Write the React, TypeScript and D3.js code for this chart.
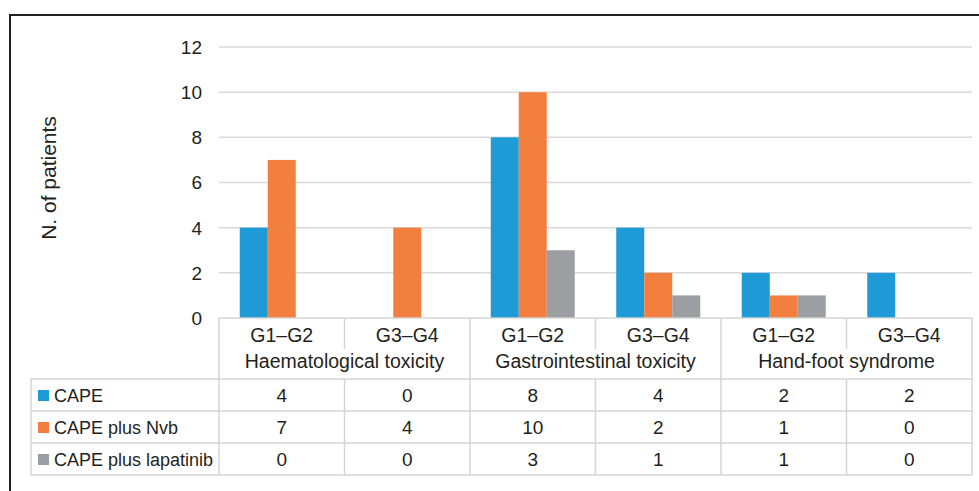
import { scaleBand, scaleLinear, range } from "d3";

const groups = ["Haematological toxicity", "Gastrointestinal toxicity", "Hand-foot syndrome"];
const grades = ["G1–G2", "G3–G4"];
const seriesNames = ["CAPE", "CAPE plus Nvb", "CAPE plus lapatinib"];
const seriesColors = ["#1e9bd7", "#f37f3e", "#9c9ea2"];
const cape = [4, 0, 8, 4, 2, 2];
const capeNvb = [7, 4, 10, 2, 1, 0];
const capeLapatinib = [0, 0, 3, 1, 1, 0];
const yTicks = [0, 2, 4, 6, 8, 10, 12];

const W = 979;
const H = 491;
const FONT = "'Liberation Sans', Arial, sans-serif";

function App() {
  const series = [cape, capeNvb, capeLapatinib];
  const cats = range(groups.length * grades.length);

  const left = 219;
  const right = 972;
  const x = scaleBand<number>().domain(cats).range([left, right]).padding(0);
  const barW = 28;
  const outer = (x.bandwidth() / barW - 3) / 2;
  const xs = scaleBand<number>().domain([0, 1, 2]).range([0, x.bandwidth()]).paddingInner(0).paddingOuter(outer);
  const y = scaleLinear().domain([0, 12]).range([318, 47]);

  // table geometry
  const headTop = y(0);
  const subLineBottom = 349;
  const rowTop = 379;
  const rowH = 32;
  const legendLeft = 31;
  const lineColor = "#d4d4d4";
  const txt = "#231f20";

  return (
    <svg width={W} height={H} style={{ position: "absolute", left: 0, top: 0, display: "block", background: "#fff" }} fontFamily={FONT}>
      {/* frame */}
      <line x1={10} x2={10} y1={14} y2={H} stroke="#231f20" strokeWidth={2} />
      <line x1={9} x2={W} y1={15} y2={15} stroke="#231f20" strokeWidth={2} />

      {/* gridlines + ticks */}
      {yTicks.map((t) => (
        <g key={t}>
          {t > 0 && <line x1={left} x2={right} y1={y(t)} y2={y(t)} stroke="#d9d9d9" strokeWidth={1.5} />}
          <text x={202} y={y(t)} dy="0.36em" textAnchor="end" fontSize={19} fill={txt}>{t}</text>
        </g>
      ))}
      <text transform={`translate(48,178) rotate(-90)`} textAnchor="middle" dy="0.36em" fontSize={21} fill={txt}>
        N. of patients
      </text>

      {/* bars */}
      {series.map((vals, si) =>
        vals.map((v, ci) =>
          v > 0 ? (
            <rect key={`${si}-${ci}`} x={(x(ci) ?? 0) + (xs(si) ?? 0)} y={y(v)} width={xs.bandwidth()} height={y(0) - y(v)} fill={seriesColors[si]} />
          ) : null
        )
      )}

      {/* table lines */}
      <line x1={left} x2={right} y1={headTop} y2={headTop} stroke={lineColor} strokeWidth={1.5} />
      {cats.map((c) => {
        const xx = x(c) ?? 0;
        const full = c % grades.length === 0;
        return <line key={`v${c}`} x1={xx} x2={xx} y1={headTop} y2={full ? rowTop + rowH * 3 : subLineBottom} stroke={lineColor} strokeWidth={1.5} />;
      })}
      {cats.map((c) =>
        c % grades.length !== 0 ? (
          <line key={`vb${c}`} x1={x(c) ?? 0} x2={x(c) ?? 0} y1={rowTop} y2={rowTop + rowH * 3} stroke={lineColor} strokeWidth={1.5} />
        ) : null
      )}
      <line x1={right} x2={right} y1={headTop} y2={rowTop + rowH * 3} stroke={lineColor} strokeWidth={1.5} />
      <line x1={legendLeft} x2={legendLeft} y1={rowTop} y2={rowTop + rowH * 3} stroke={lineColor} strokeWidth={1.5} />
      {range(4).map((r) => (
        <line key={`h${r}`} x1={legendLeft} x2={right} y1={rowTop + r * rowH} y2={rowTop + r * rowH} stroke={lineColor} strokeWidth={1.5} />
      ))}

      {/* header text */}
      {cats.map((c) => (
        <text key={`g${c}`} x={(x(c) ?? 0) + x.bandwidth() / 2} y={342} textAnchor="middle" fontSize={19.5} fill={txt}>
          {grades[c % grades.length]}
        </text>
      ))}
      {groups.map((g, gi) => (
        <text key={g} x={(x(gi * 2) ?? 0) + x.bandwidth()} y={368} textAnchor="middle" fontSize={19.5} fill={txt}>
          {g}
        </text>
      ))}

      {/* legend rows + values */}
      {series.map((vals, si) => {
        const rowY = rowTop + si * rowH;
        return (
          <g key={`r${si}`}>
            <rect x={38} y={rowY + 11} width={11} height={11} fill={seriesColors[si]} />
            <text x={54} y={rowY + 23} fontSize={18} fill={txt}>{seriesNames[si]}</text>
            {vals.map((v, ci) => (
              <text key={ci} x={(x(ci) ?? 0) + x.bandwidth() / 2} y={rowY + 23} textAnchor="middle" fontSize={19} fill={txt}>
                {v}
              </text>
            ))}
          </g>
        );
      })}
    </svg>
  );
}

export default App;
